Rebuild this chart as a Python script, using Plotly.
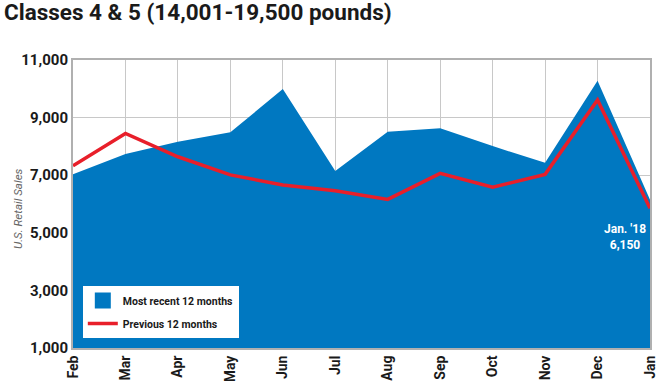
import plotly.graph_objects as go

months = ["Feb", "Mar", "Apr", "May", "Jun", "Jul", "Aug", "Sep", "Oct", "Nov", "Dec", "Jan"]
recent = [7030, 7740, 8160, 8490, 9990, 7150, 8510, 8630, 8010, 7430, 10280, 6150]
previous = [7330, 8450, 7640, 7010, 6660, 6460, 6160, 7065, 6580, 7030, 9610, 5850]
y_ticks = [1000, 3000, 5000, 7000, 9000, 11000]
y_tick_text = ["1,000", "3,000", "5,000", "7,000", "9,000", "11,000"]

FONT = "Roboto, Liberation Sans, sans-serif"
BLUE = "#0078c1"
RED = "#e81f2a"

def f(size, color="#1a1a1a", weight="bold", style="normal"):
    return dict(family=FONT, size=size, color=color, weight=weight, style=style)

fig = go.Figure()
fig.add_trace(go.Scatter(
    x=months, y=recent, mode="lines", fill="tozeroy",
    line=dict(color=BLUE, width=0), fillcolor=BLUE,
    name="Most recent 12 months", showlegend=False, hoverinfo="skip"))
# legend entry with a square swatch for the filled area
fig.add_trace(go.Scatter(
    x=[None], y=[None], mode="markers",
    marker=dict(symbol="square", size=19, color=BLUE),
    name="Most recent 12 months", legendgroup="a"))
fig.add_trace(go.Scatter(
    x=months, y=previous, mode="lines",
    line=dict(color=RED, width=3.5),
    name="Previous 12 months", legendgroup="b"))

fig.add_annotation(
    x=months[-1], y=recent[-1], xref="x", yref="y",
    text="Jan. '18<br>6,150", showarrow=False,
    xanchor="right", yanchor="top", yshift=-20, xshift=-2,
    align="center", font=f(12, "white"))

fig.add_annotation(
    x=-0.095, y=0.483, xref="paper", yref="paper",
    text="U.S. Retail Sales", textangle=-90, showarrow=False,
    xanchor="center", yanchor="middle",
    font=f(11.5, "#666666", weight="normal", style="italic"))

fig.update_layout(
    width=660, height=381,
    margin=dict(l=73, r=10, t=60, b=33),
    paper_bgcolor="white", plot_bgcolor="white",
    title=dict(text="Classes 4 & 5 (14,001-19,500 pounds)",
               x=0.006, xanchor="left", y=0.99, yanchor="top",
               font=f(22.5)),
    showlegend=True,
    legend=dict(x=0.017, y=0.215, xanchor="left", yanchor="top",
                bgcolor="white", borderwidth=0,
                font=f(10.5),
                itemwidth=30, tracegroupgap=4),
    xaxis=dict(range=[0, 11], showgrid=True, gridcolor="#c8c8c8", gridwidth=1,
               tickangle=-90, ticks="", showline=True, linecolor="#b0b0b0",
               linewidth=2, mirror=True, automargin=False,
               tickfont=f(14)),
    yaxis=dict(range=[1000, 11000], tickvals=y_ticks, ticktext=y_tick_text,
               showgrid=True, gridcolor="#c8c8c8", gridwidth=1, automargin=False,
               ticks="", showline=True, linecolor="#b0b0b0", linewidth=2, mirror=True,
               tickfont=f(15)),
)

fig.write_html("out.html", config={"displayModeBar": False},
               post_script="document.body.style.margin='0';")
